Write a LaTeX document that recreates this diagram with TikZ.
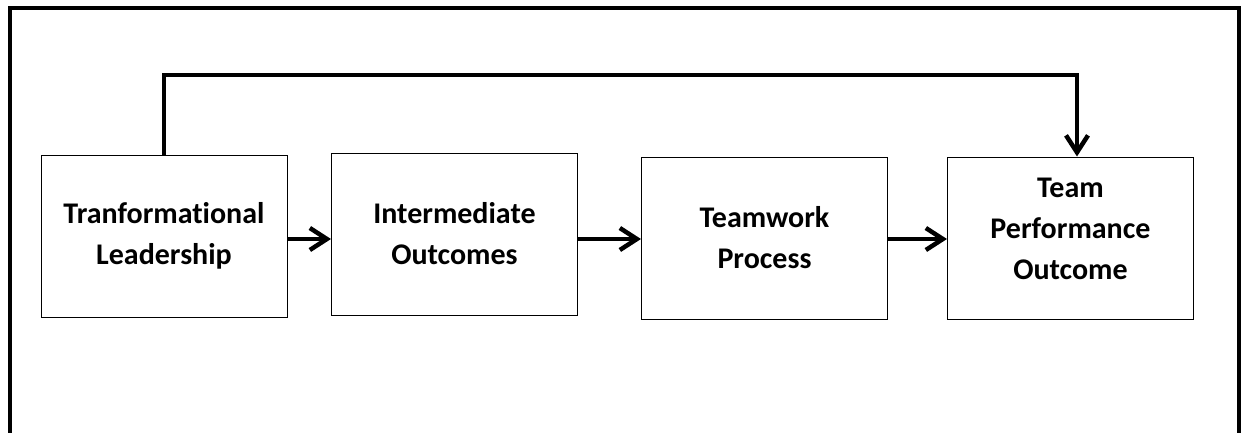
\documentclass[tikz,border=0pt]{standalone}
\usepackage{fontspec}
\setmainfont{Carlito}[Ligatures=NoCommon]
\usetikzlibrary{arrows.meta}
\tikzset{
  stagebox/.style={draw,line width=1pt,minimum width=246pt,minimum height=162pt,
    align=center,font=\bfseries\fontsize{30}{41}\selectfont},
  flow/.style={line width=4.5pt,-{Straight Barb[length=17pt,width=22pt]}}
}
\begin{document}
\begin{tikzpicture}[x=1pt,y=-1pt]
\useasboundingbox (0,0) rectangle (1251,432);
\clip (0,0) rectangle (1251,432);
\draw[line width=4.5pt] (10,445) -- (10,8) -- (1239,8) -- (1239,445);

\node[stagebox] (tl) at (164,236) {Tranformational\\Leadership};
\node[stagebox] (io) at (454.5,234) {Intermediate\\Outcomes};
\node[stagebox] (tw) at (764.5,238) {Teamwork\\Process};
\node[stagebox] (tp) at (1070.5,238) {};
\node[font=\bfseries\fontsize{30}{41}\selectfont,align=center] (tpt) at (1070.5,229) {Team\\Performance\\Outcome};

\draw[flow] ([yshift=-3pt]tl.east) -- ([yshift=-3pt]tl.east -| io.west);
\draw[flow] ([yshift=-5pt]io.east) -- ([yshift=-5pt]io.east -| tw.west);
\draw[flow] ([yshift=-1pt]tw.east) -- ([yshift=-1pt]tw.east -| tp.west);
\draw[flow] (tl.north) |- ([xshift=6.5pt]tp.north |- 0,75) -- ([xshift=6.5pt]tp.north);
\end{tikzpicture}
\end{document}
